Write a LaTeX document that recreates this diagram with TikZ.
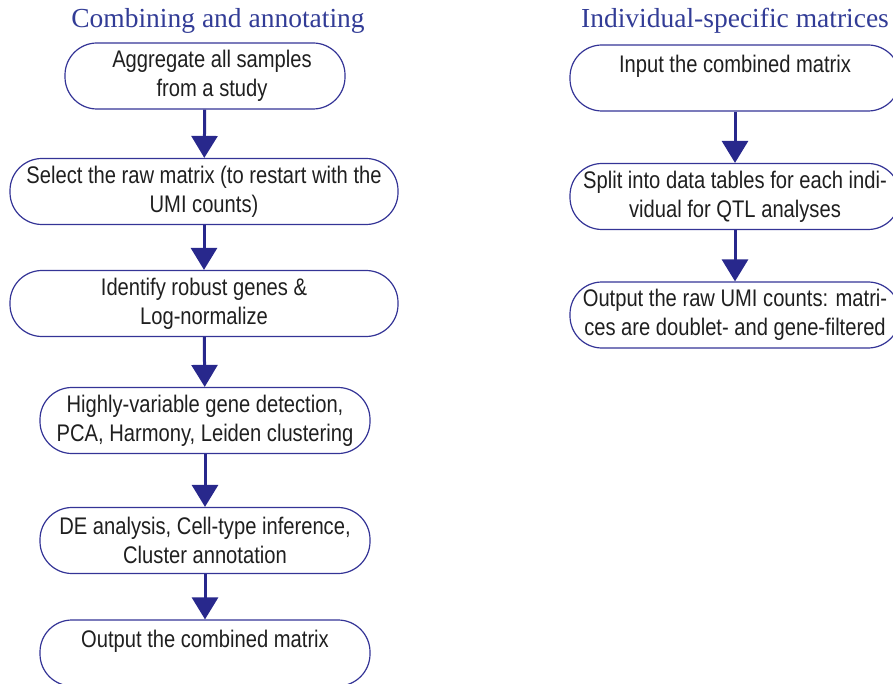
\documentclass[tikz,border=0pt]{standalone}
\usepackage{fontspec}
\setmainfont{Liberation Sans}[FakeStretch=0.84]
\newfontfamily\titlefont{Liberation Serif}
\usetikzlibrary{arrows.meta}
\definecolor{boxblue}{RGB}{52,52,150}
\definecolor{arrowblue}{RGB}{40,40,140}
\definecolor{titleblue}{RGB}{50,60,150}

\begin{document}
\begin{tikzpicture}[x=1pt,y=-1pt,
  stage/.style={draw=boxblue, line width=1.2pt, rounded corners=32pt,
    minimum height=66pt, align=center, inner sep=0pt, text=black!88,
    font=\fontsize{24}{29}\selectfont,
    execute at begin node={\vspace*{5pt}}},
  wide/.style={stage, minimum width=388pt},
  mid/.style={stage, minimum width=330pt},
  flow/.style={draw=arrowblue, line width=3pt,
    -{Triangle[width=26pt,length=22pt]}},
  heading/.style={font=\titlefont\fontsize{27.5}{30}\selectfont, text=titleblue}
]
\useasboundingbox (0,0) rectangle (893,684);
\clip (0,0) rectangle (893,684);

% column headings
\node[heading] (hl) at (218,21) {Combining and annotating};
\node[heading] (hr) at (735,21) {Individual-specific matrices};

% left column: combining and annotating
\node[stage, minimum width=280pt] (l1) at (205,76)
  {\hspace*{14pt}Aggregate all samples\\\hspace*{14pt}from a study};
\node[wide] (l2) at (204,191.5)
  {Select the raw matrix (to restart with the\\UMI counts)};
\node[wide] (l3) at (204,303.5)
  {Identify robust genes \&\\Log-normalize};
\node[mid] (l4) at (205,420.5)
  {Highly-variable gene detection,\\PCA, Harmony, Leiden clustering};
\node[mid] (l5) at (205,540.5)
  {DE analysis, Cell-type inference,\\Cluster annotation};
\node[mid] (l6) at (205,653)
  {Output the combined matrix\\~};

% right column: individual-specific matrices
\node[mid] (r1) at (735,78)
  {Input the combined matrix\\~};
\node[mid] (r2) at (735,196.5)
  {Split into data tables for each indi-\\vidual for QTL analyses};
\node[mid] (r3) at (735,315)
  {Output the raw UMI counts: matri-\\ces are doublet- and gene-filtered};

% connectors
\draw[flow] (l1) -- (l2);
\draw[flow] (l2) -- (l3);
\draw[flow] (l3) -- (l4);
\draw[flow] (l4) -- (l5);
\draw[flow] (l5) -- (l6);
\draw[flow] (r1) -- (r2);
\draw[flow] (r2) -- (r3);
\end{tikzpicture}
\end{document}
